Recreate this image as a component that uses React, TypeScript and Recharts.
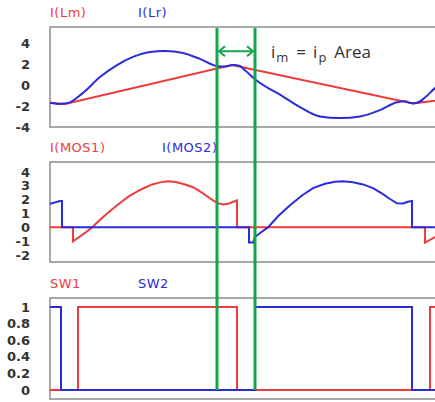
import { LineChart, Line, XAxis, YAxis, ReferenceLine, ReferenceArea } from 'recharts'

// time axis: arbitrary units across the visible window
const tDomain = [0, 395]

// panel 1: I(Lm), I(Lr)
const lmT = [0, 15, 182, 363, 385, 395]
const lmV = [-1.7, -1.8, 1.9, -1.75, -1.5, -1.35]
const lrT = [0, 8, 17, 33, 50, 67, 83, 100, 115, 133, 150, 167, 175, 183, 190, 195, 205, 233, 250, 270, 290, 310, 330, 347, 355, 362, 367, 375, 385, 395]
const lrV = [-1.7, -1.8, -1.75, -0.75, 0.76, 1.9, 2.67, 3.14, 3.24, 3.05, 2.48, 1.8, 1.75, 1.9, 1.8, 1.4, 0.55, -1.1, -2.1, -3.0, -3.15, -3.0, -2.4, -1.65, -1.55, -1.75, -1.7, -1.2, -0.3, 0.3]

// panel 2: I(MOS1), I(MOS2)
const mos1T = [0, 23, 23, 27, 35, 42, 50, 58, 67, 78, 90, 102, 110, 118, 126, 135, 143, 150, 157, 163, 168, 173, 178, 183, 187, 187, 375, 375, 385, 395]
const mos1V = [0, 0, -1, -0.8, -0.4, 0, 0.55, 1.05, 1.6, 2.2, 2.7, 3.1, 3.25, 3.33, 3.28, 3.1, 2.9, 2.6, 2.25, 1.95, 1.75, 1.65, 1.7, 1.85, 1.95, 0, 0, -1.1, -0.7, -0.5]
const mos2T = [0, 10, 12, 12, 199, 199, 203, 205, 211, 218, 228, 240, 252, 263, 275, 285, 293, 303, 313, 323, 333, 340, 347, 353, 358, 362, 362, 395]
const mos2V = [1.7, 1.9, 1.9, 0, 0, -1.1, -1.1, -0.7, -0.35, 0, 0.8, 1.6, 2.3, 2.83, 3.15, 3.3, 3.33, 3.25, 3.1, 2.83, 2.4, 2.05, 1.74, 1.72, 1.85, 1.9, 0, 0]

// panel 3: SW1, SW2
const sw1T = [0, 28, 28, 187, 187, 380, 380, 395]
const sw1V = [0, 0, 1, 1, 0, 0, 1, 1]
const sw2T = [0, 11, 11, 205, 205, 362, 362, 395]
const sw2V = [1, 1, 0, 0, 1, 1, 0, 0]

const ticks1 = [-4, -2, 0, 2, 4]
const ticks2 = [-2, -1, 0, 1, 2, 3, 4]
const ticks3 = [0, 0.2, 0.4, 0.6, 0.8, 1]

// marked interval (im = ip)
const markT = [167, 205]

const RED = '#ee3b3b'
const BLUE = '#2b2bdc'
const GREEN = '#14a64a'
const FRAME = '#8c8c8c'

const zip = (t: number[], v: number[]) => t.map((x, i) => ({ t: x, v: v[i] }))

const tickStyle = { fill: '#333', fontSize: 13, fontWeight: 'bold', fontFamily: 'DejaVu Sans' }

function Panel({ top, height, margin, domain, ticks, series }: any) {
  return (
    <div style={{ position: 'absolute', left: 0, top }}>
      <LineChart width={445} height={height} margin={margin}>
        <XAxis type="number" dataKey="t" domain={tDomain} hide allowDataOverflow />
        <YAxis type="number" domain={domain} ticks={ticks} width={50} tickSize={0} tickMargin={20}
          tickLine={false} interval={0} axisLine={false} tick={tickStyle} allowDataOverflow />
        <ReferenceArea x1={tDomain[0]} x2={tDomain[1]} y1={domain[0]} y2={domain[1]}
          fill="none" stroke={FRAME} strokeWidth={1.5} fillOpacity={0} ifOverflow="visible" />
        {series.map((s: any, i: number) => (
          <Line key={i} data={s.data} dataKey="v" type={s.type || 'linear'} stroke={s.color}
            strokeWidth={2} dot={false} isAnimationActive={false} />
        ))}
      </LineChart>
    </div>
  )
}

const ArrowShape = (props: any) => {
  const { x1, y1, x2 } = props
  const h = 5
  return (
    <g>
      <path d={`M${x1},${y1} L${x2},${y1}`} stroke={GREEN} strokeWidth={2} />
      <path d={`M${x1 + h + 1},${y1 - h} L${x1},${y1} L${x1 + h + 1},${y1 + h}`} stroke={GREEN} strokeWidth={2} fill="none" />
      <path d={`M${x2 - h - 1},${y1 - h} L${x2},${y1} L${x2 - h - 1},${y1 + h}`} stroke={GREEN} strokeWidth={2} fill="none" />
      <text x={x2 + 18} y={y1 + 7} fill="#333" fontFamily="Open Sans" fontSize={17}>
        <tspan>i</tspan>
        <tspan fontSize={13} dx={1} dy={4}>m</tspan>
        <tspan dx={8} dy={-4}>=</tspan>
        <tspan dx={7}>i</tspan>
        <tspan fontSize={13} dx={1} dy={4}>p</tspan>
        <tspan dx={8} dy={-4}>Area</tspan>
      </text>
    </g>
  )
}

const label = (text: string, color: string, left: number, top: number) => (
  <div style={{
    position: 'absolute', left, top, color, fontFamily: 'DejaVu Sans', fontSize: 13,
    letterSpacing: 0.5, lineHeight: '15px', whiteSpace: 'nowrap',
  }}>{text}</div>
)

export default function App() {
  return (
    <div style={{ position: 'fixed', left: 0, top: 0, width: 435, height: 402, overflow: 'hidden', background: '#fff' }}>
      {label('I(Lm)', RED, 50, 5)}
      {label('I(Lr)', BLUE, 138, 5)}
      {label('I(MOS1)', RED, 50, 140)}
      {label('I(MOS2)', BLUE, 162, 140)}
      {label('SW1', RED, 50, 276)}
      {label('SW2', BLUE, 138, 276)}

      <Panel top={0} height={135} margin={{ top: 27, right: 0, bottom: 8, left: 0 }}
        domain={[-4, 5.52]} ticks={ticks1}
        series={[
          { data: zip(lmT, lmV), color: RED },
          { data: zip(lrT, lrV), color: BLUE, type: 'monotone' },
        ]} />
      <Panel top={135} height={135} margin={{ top: 27, right: 0, bottom: 8, left: 0 }}
        domain={[-2.5, 4.72]} ticks={ticks2}
        series={[
          { data: zip(mos1T, mos1V), color: RED },
          { data: zip(mos2T, mos2V), color: BLUE },
        ]} />
      <Panel top={270} height={132} margin={{ top: 28, right: 0, bottom: 3, left: 0 }}
        domain={[-0.11, 1.11]} ticks={ticks3}
        series={[
          { data: zip(sw1T, sw1V), color: RED },
          { data: zip(sw2T, sw2V), color: BLUE },
        ]} />

      {/* overlay: green markers across all panels */}
      <div style={{ position: 'absolute', left: 0, top: 0 }}>
        <LineChart width={445} height={402} margin={{ top: 28, right: 0, bottom: 12, left: 50 }}>
          <XAxis type="number" dataKey="t" domain={tDomain} hide />
          <YAxis type="number" domain={[0, 1]} hide />
          <Line data={zip(markT, [0, 1])} dataKey="v" stroke="none" dot={false} isAnimationActive={false} />
          {markT.map((x) => (
            <ReferenceLine key={x} x={x} stroke={GREEN} strokeWidth={3} />
          ))}
          <ReferenceLine segment={[{ x: markT[0] + 2, y: 0.936 }, { x: markT[1] - 2, y: 0.936 }]}
            shape={ArrowShape} />
        </LineChart>
      </div>
    </div>
  )
}
